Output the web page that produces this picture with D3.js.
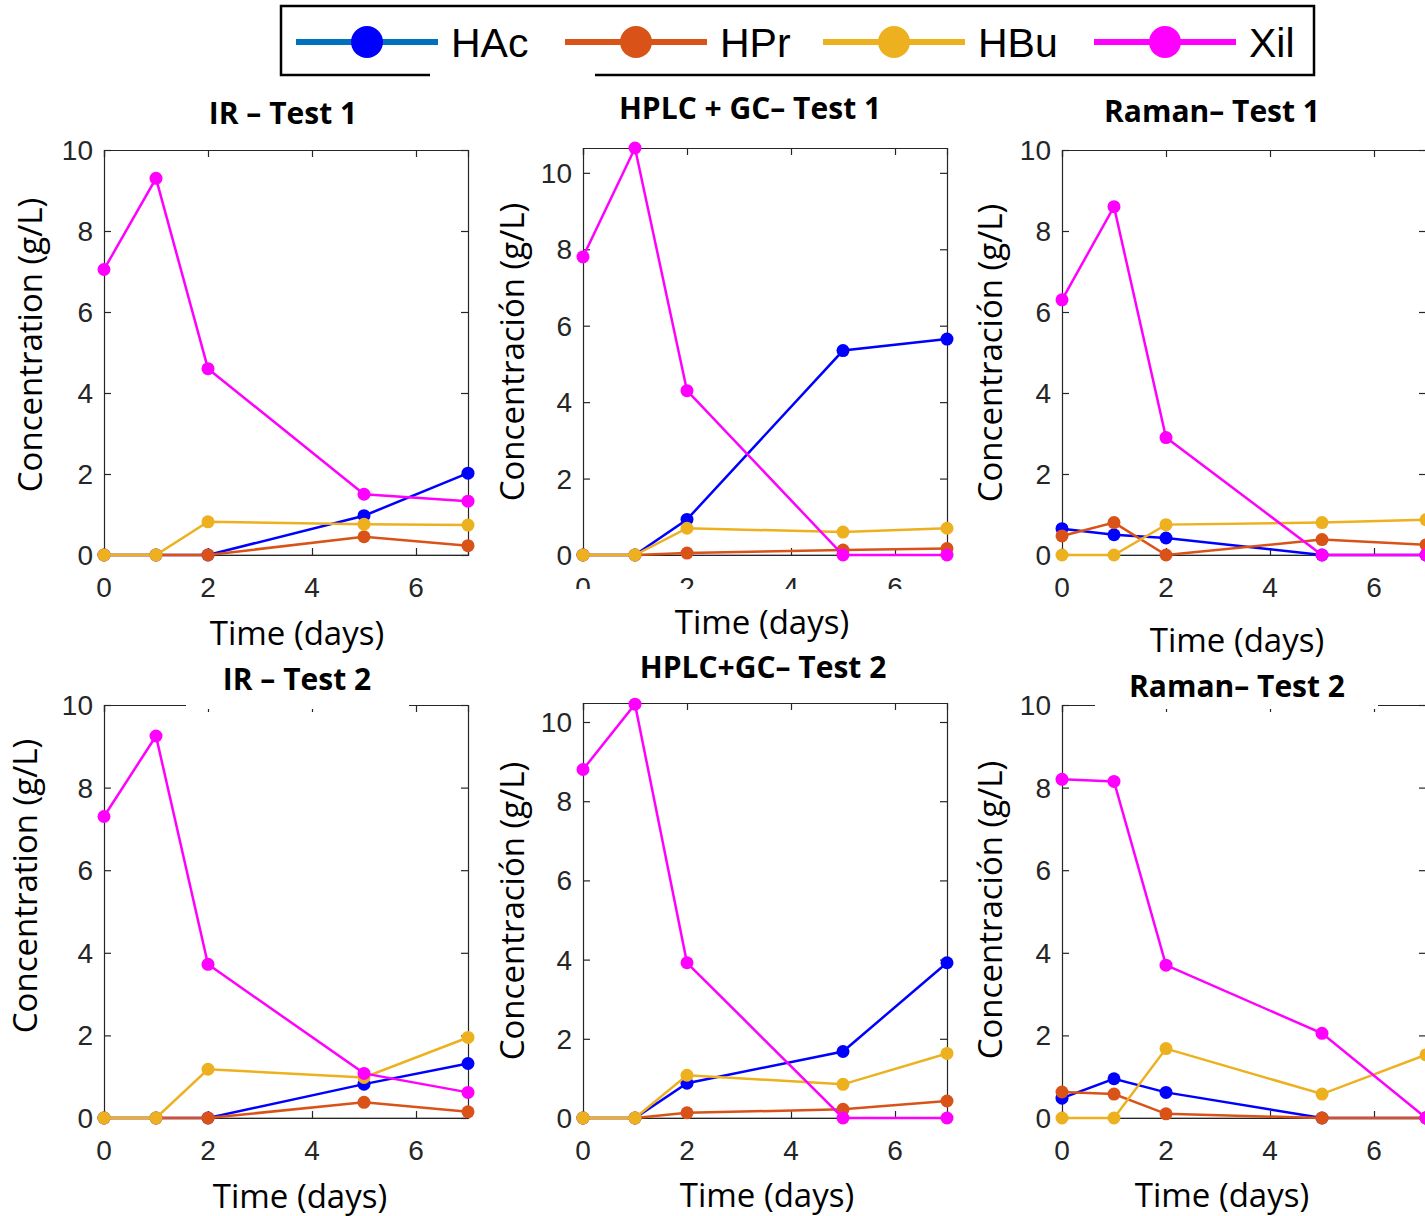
<!DOCTYPE html>
<html>
<head>
<meta charset="utf-8">
<script src="https://cdn.jsdelivr.net/npm/d3@7"></script>
<style>
  body { margin: 0; background: #fff; }
  svg { display: block; }
</style>
</head>
<body>
<svg id="chart"></svg>
<script>
// sampling days
var days = [0, 1, 2, 5, 7];
var seriesNames = ["HAc", "HPr", "HBu", "Xil"];
var markerColors = ["#0000FF", "#D95319", "#EDB120", "#FF00FF"];
var legendLineColors = ["#0072BD", "#D95319", "#EDB120", "#FF00FF"];
var yTicks = [0, 2, 4, 6, 8, 10];
var xTicks = [0, 2, 4, 6];

// values per panel, rows = HAc, HPr, HBu, Xil
var irTest1 = [
  [0, 0, 0, 0.97, 2.02],
  [0, 0, 0, 0.45, 0.23],
  [0, 0, 0.82, 0.76, 0.74],
  [7.05, 9.3, 4.6, 1.5, 1.33]
];
var hplcTest1 = [
  [0, 0, 0.93, 5.35, 5.65],
  [0, 0, 0.05, 0.13, 0.17],
  [0, 0, 0.7, 0.6, 0.7],
  [7.8, 10.65, 4.3, 0, 0]
];
var ramanTest1 = [
  [0.65, 0.5, 0.42, 0, 0],
  [0.47, 0.8, 0, 0.38, 0.25],
  [0, 0, 0.75, 0.8, 0.87],
  [6.3, 8.6, 2.9, 0, 0]
];
var irTest2 = [
  [0, 0, 0, 0.82, 1.32],
  [0, 0, 0, 0.38, 0.15],
  [0, 0, 1.18, 0.98, 1.95],
  [7.3, 9.25, 3.72, 1.08, 0.62]
];
var hplcTest2 = [
  [0, 0, 0.88, 1.68, 3.92],
  [0, 0, 0.13, 0.22, 0.43],
  [0, 0, 1.08, 0.85, 1.63],
  [8.8, 10.45, 3.92, 0, 0]
];
var ramanTest2 = [
  [0.48, 0.95, 0.62, 0, 0],
  [0.63, 0.58, 0.1, 0, 0],
  [0, 0, 1.68, 0.58, 1.53],
  [8.2, 8.15, 3.7, 2.05, 0]
];

var W = 1425, H = 1216;
var svg = d3.select("#chart").attr("width", W).attr("height", H);

// layout of each subplot (pixel boxes, titles, label spots)
var panels = [
  { data: irTest1, title: "IR \u2013 Test 1", ylab: "Concentration (g/L)", ymax: 10,
    x0: 104, x1: 468, y0: 150, y1: 555, tx: 283, ty: 113, ylx: 30, yly: 345, xlx: 297, xly: 633 },
  { data: hplcTest1, title: "HPLC + GC\u2013 Test 1", ylab: "Concentración (g/L)", ymax: 10.65,
    x0: 583, x1: 947, y0: 148, y1: 555, tx: 750, ty: 108, ylx: 512, yly: 352, xlx: 762, xly: 622, cutTicks: true },
  { data: ramanTest1, title: "Raman\u2013 Test 1", ylab: "Concentración (g/L)", ymax: 10,
    x0: 1062, x1: 1426, y0: 150, y1: 555, tx: 1212, ty: 111, ylx: 990, yly: 353, xlx: 1237, xly: 640 },
  { data: irTest2, title: "IR \u2013 Test 2", ylab: "Concentration (g/L)", ymax: 10,
    x0: 104, x1: 468, y0: 705, y1: 1118, tx: 297, ty: 679, ylx: 25, yly: 886, xlx: 300, xly: 1196, gap: [186, 409] },
  { data: hplcTest2, title: "HPLC+GC\u2013 Test 2", ylab: "Concentración (g/L)", ymax: 10.48,
    x0: 583, x1: 947, y0: 703, y1: 1118, tx: 763, ty: 667, ylx: 512, yly: 911, xlx: 767, xly: 1195 },
  { data: ramanTest2, title: "Raman\u2013 Test 2", ylab: "Concentración (g/L)", ymax: 10,
    x0: 1062, x1: 1426, y0: 705, y1: 1118, tx: 1237, ty: 686, ylx: 990, yly: 910, xlx: 1222, xly: 1195, gap: [1095, 1378] }
];

var axisColor = "#262626";
var tickFont = "'Liberation Sans', Arial, sans-serif";
var labelFont = "'Open Sans', sans-serif";
var titleFont = "'Open Sans', sans-serif";

panels.forEach(function(p, pi) {
  var x = d3.scaleLinear().domain([0, 7]).range([p.x0, p.x1]);
  var y = d3.scaleLinear().domain([0, p.ymax]).range([p.y1, p.y0]);
  var g = svg.append("g");

  // zero baseline (grey) like the original
  g.append("line")
    .attr("x1", x(0)).attr("x2", x(7))
    .attr("y1", y(0)).attr("y2", y(0))
    .attr("stroke", "#999").attr("stroke-width", 1.5);

  // box + ticks on all four sides, inward
  var axB = d3.axisBottom(x).tickValues(xTicks).tickSize(-7).tickFormat("");
  var axT = d3.axisTop(x).tickValues(xTicks).tickSize(-7).tickFormat("");
  var axL = d3.axisLeft(y).tickValues(yTicks).tickSize(-7).tickFormat("");
  var axR = d3.axisRight(y).tickValues(yTicks).tickSize(-7).tickFormat("");
  [[axB, "translate(0," + p.y1 + ")"], [axT, "translate(0," + p.y0 + ")"],
   [axL, "translate(" + p.x0 + ",0)"], [axR, "translate(" + p.x1 + ",0)"]].forEach(function(a) {
    var ga = g.append("g").attr("transform", a[1]).call(a[0]);
    ga.selectAll("path").attr("stroke", axisColor).attr("stroke-width", 1.2);
    ga.selectAll("line").attr("stroke", axisColor).attr("stroke-width", 1.2);
  });

  // x tick labels (the HPLC test 1 panel has them half hidden in the original)
  var xtg = g.append("g");
  if (p.cutTicks) {
    svg.append("clipPath").attr("id", "cut" + pi)
      .append("rect").attr("x", p.x0 - 30).attr("y", p.y1 + 5)
      .attr("width", p.x1 - p.x0 + 60).attr("height", 29);
    xtg.attr("clip-path", "url(#cut" + pi + ")");
  }
  xtg.selectAll(".xt").data(xTicks).enter().append("text")
    .attr("x", function(d) { return x(d); })
    .attr("y", p.y1 + 42)
    .attr("text-anchor", "middle")
    .attr("font-family", tickFont).attr("font-size", 28)
    .attr("fill", axisColor)
    .text(function(d) { return d; });
  g.selectAll(".yt").data(yTicks).enter().append("text")
    .attr("x", p.x0 - 11)
    .attr("y", function(d) { return y(d) + 10; })
    .attr("text-anchor", "end")
    .attr("font-family", tickFont).attr("font-size", 28)
    .attr("fill", axisColor)
    .text(function(d) { return d; });

  // series
  var line = d3.line()
    .x(function(d, i) { return x(days[i]); })
    .y(function(d) { return y(d); });
  p.data.forEach(function(vals, s) {
    g.append("path")
      .datum(vals)
      .attr("d", line)
      .attr("fill", "none")
      .attr("stroke", markerColors[s])
      .attr("stroke-width", 2.5);
    g.selectAll(".m" + s).data(vals).enter().append("circle")
      .attr("cx", function(d, i) { return x(days[i]); })
      .attr("cy", function(d) { return y(d); })
      .attr("r", 6.5)
      .attr("fill", markerColors[s]);
  });

  // white patch that breaks the top frame behind some titles
  if (p.gap) {
    g.append("rect").attr("x", p.gap[0]).attr("y", p.y0 - 4)
      .attr("width", p.gap[1] - p.gap[0]).attr("height", 8).attr("fill", "#fff");
  }

  // title
  g.append("text")
    .attr("x", p.tx).attr("y", p.ty + 11)
    .attr("text-anchor", "middle")
    .attr("font-family", titleFont).attr("font-weight", "bold").attr("font-size", 30)
    .attr("fill", "#000")
    .text(p.title);

  // axis labels
  g.append("text")
    .attr("x", p.xlx).attr("y", p.xly + 12)
    .attr("text-anchor", "middle")
    .attr("font-family", labelFont).attr("font-size", 33)
    .attr("fill", "#000")
    .text("Time (days)");
  g.append("text")
    .attr("transform", "translate(" + (p.ylx + 12) + "," + p.yly + ") rotate(-90)")
    .attr("text-anchor", "middle")
    .attr("font-family", labelFont).attr("font-size", 33)
    .attr("fill", "#000")
    .text(p.ylab);
});

// legend
var leg = svg.append("g");
leg.append("rect")
  .attr("x", 281).attr("y", 6).attr("width", 1033).attr("height", 69)
  .attr("fill", "#fff").attr("stroke", "#000").attr("stroke-width", 2.5);
leg.append("rect").attr("x", 430).attr("y", 72).attr("width", 165).attr("height", 6).attr("fill", "#fff");

var legX = d3.scaleOrdinal().domain(seriesNames).range([296, 565, 823, 1094]);
seriesNames.forEach(function(name, i) {
  var lx = legX(name);
  leg.append("line")
    .attr("x1", lx).attr("x2", lx + 142)
    .attr("y1", 42).attr("y2", 42)
    .attr("stroke", legendLineColors[i]).attr("stroke-width", 6);
  leg.append("circle")
    .attr("cx", lx + 71).attr("cy", 42).attr("r", 16)
    .attr("fill", markerColors[i]);
  leg.append("text")
    .attr("x", lx + 155).attr("y", 57)
    .attr("font-family", tickFont).attr("font-size", 41)
    .attr("fill", "#000")
    .text(name);
});
</script>
</body>
</html>
